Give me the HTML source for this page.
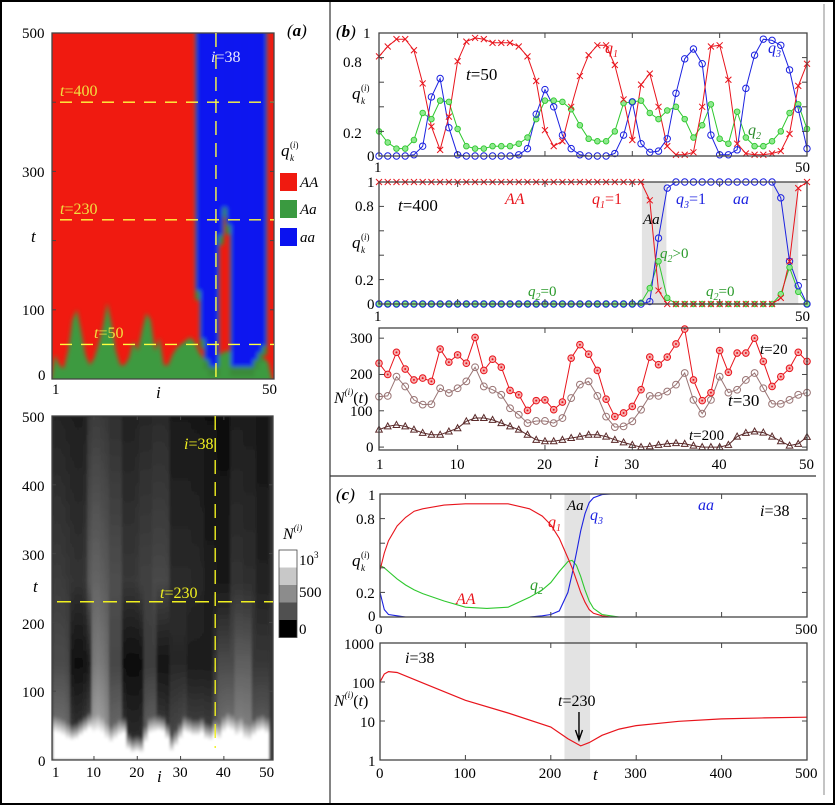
<!DOCTYPE html>
<html><head><meta charset="utf-8">
<style>
html,body{margin:0;padding:0;background:#fff;}
svg text{font-family:"Liberation Serif",serif;}
.it{font-style:italic;}
</style></head>
<body>
<svg id="fig" width="835" height="805" viewBox="0 0 835 805" xmlns="http://www.w3.org/2000/svg">
<defs>
<filter id="blur2" x="-5%" y="-5%" width="110%" height="110%"><feGaussianBlur stdDeviation="2.2"/></filter>
<filter id="blur1" x="-5%" y="-5%" width="110%" height="110%"><feGaussianBlur stdDeviation="1.3"/></filter>
<clipPath id="clipA"><rect x="52" y="33" width="222" height="346"/></clipPath>
<clipPath id="clipB"><rect x="52" y="416" width="221" height="344"/></clipPath>
</defs>
<rect x="1" y="1" width="833" height="803" fill="none" stroke="#000" stroke-width="2"/>
<line x1="330" y1="2" x2="330" y2="803" stroke="#333" stroke-width="1.2"/>
<line x1="330" y1="476" x2="816" y2="476" stroke="#333" stroke-width="1.2"/>
<line x1="824" y1="4" x2="824" y2="795" stroke="#888" stroke-width="1"/>
<g id="root"></g>
</svg>
<script>
// ---------- data: panel (b) t=50 ----------
const idx = Array.from({length:50},(_,k)=>k+1);
const q1_t50 = [0.81,0.89,0.95,0.95,0.86,0.59,0.24,0.05,0.32,0.77,0.93,0.96,0.95,0.92,0.92,0.92,0.89,0.81,0.61,0.21,0.08,0.12,0.40,0.65,0.82,0.90,0.90,0.74,0.46,0.13,0.58,0.67,0.40,0.08,0.01,0.01,0.03,0.40,0.89,0.90,0.62,0.10,0.02,0.01,0.01,0.02,0.04,0.18,0.57,0.75];
const q2_t50 = [0.20,0.11,0.06,0.06,0.13,0.35,0.30,0.45,0.44,0.22,0.08,0.06,0.06,0.08,0.08,0.08,0.10,0.15,0.30,0.45,0.45,0.44,0.38,0.25,0.14,0.12,0.12,0.20,0.43,0.44,0.45,0.35,0.30,0.37,0.40,0.30,0.15,0.25,0.42,0.14,0.10,0.36,0.15,0.08,0.08,0.12,0.20,0.35,0.42,0.22];
const q3_t50 = [0,0,0,0,0.01,0.08,0.48,0.63,0.23,0.01,0,0,0,0,0,0,0.01,0.06,0.34,0.54,0.40,0.17,0.06,0.01,0,0,0,0.02,0.17,0.44,0.10,0.03,0.04,0.14,0.51,0.79,0.87,0.75,0.17,0.01,0.01,0.05,0.55,0.82,0.95,0.94,0.90,0.70,0.38,0.06];
// ---------- panel (b) t=400 ----------
const q1_t400 = [1,1,1,1,1,1,1,1,1,1,1,1,1,1,1,1,1,1,1,1,1,1,1,1,1,1,1,1,1,1,1,0.85,0.11,0,0,0,0,0,0,0,0,0,0,0,0,0,0.05,0.35,0.95,1];
const q2_t400 = [0,0,0,0,0,0,0,0,0,0,0,0,0,0,0,0,0,0,0,0,0,0,0,0,0,0,0,0,0,0,0.01,0.13,0.35,0.05,0,0,0,0,0,0,0,0,0,0,0,0,0.08,0.30,0.10,0];
const q3_t400 = [0,0,0,0,0,0,0,0,0,0,0,0,0,0,0,0,0,0,0,0,0,0,0,0,0,0,0,0,0,0,0,0.02,0.54,0.95,1,1,1,1,1,1,1,1,1,1,1,1,0.87,0.35,0.15,0];
const aaBands = [[31.1,33.9],[46.0,49.0]];
// ---------- panel (b) N(t) ----------
const N_t20 = [231,200,261,215,185,190,181,270,234,254,231,302,211,242,220,156,144,101,128,130,103,124,245,282,256,211,132,84,94,112,158,248,227,248,284,325,185,128,150,266,206,259,259,300,236,167,194,217,261,236];
const N_t30 = [139,141,194,167,130,117,118,162,149,162,181,220,167,158,144,107,89,66,72,72,66,80,135,172,181,141,84,55,57,71,103,141,141,153,172,204,130,92,130,194,150,158,185,204,162,119,119,130,144,150];
const N_t200 = [48,57,61,57,48,39,34,34,43,52,71,80,80,75,66,57,48,34,20,16,16,20,25,29,34,34,29,20,13,6,0,2,6,9,11,9,4,0,0,0,6,29,39,43,40,29,16,4,9,28];
// ---------- panel (c) ----------
const tC = [0,5,10,20,30,40,50,75,100,125,150,175,190,200,210,220,225,230,235,240,245,250,260,270,280,300,350,400,450,500];
const q1_c = [0.38,0.52,0.62,0.74,0.81,0.86,0.88,0.91,0.92,0.92,0.92,0.88,0.82,0.75,0.64,0.48,0.40,0.30,0.20,0.12,0.06,0.03,0.01,0,0,0,0,0,0,0];
const q2_c = [0.42,0.40,0.37,0.31,0.26,0.22,0.19,0.13,0.08,0.07,0.08,0.16,0.22,0.28,0.37,0.45,0.46,0.42,0.33,0.22,0.13,0.07,0.02,0.01,0,0,0,0,0,0];
const q3_c = [0.20,0.06,0.02,0.01,0,0,0,0,0,0,0,0,0.01,0.02,0.05,0.20,0.35,0.52,0.70,0.84,0.93,0.97,0.995,1,1,1,1,1,1,1];
const tN = [0,5,10,20,50,100,150,200,220,235,245,260,280,300,350,400,450,500];
const N_i38 = [100,160,185,175,95,34,16,7,3.5,2.3,2.8,4.3,6.2,7.6,9.8,11.3,12,12.5];
// ---------- heatmap (a) top: genotype ----------
const blobT = [35,20,15,40,85,100,70,35,20,30,50,75,110,80,40,20,20,30,55,40,70,95,85,40,60,20,20,35,45,50,55,60,55,40,30,25,25,30,35,40,40,40,40,40,40,40,35,30,30,25];
const aaStartT = [null,null,null,null,null,null,null,null,null,null,null,null,null,null,null,null,null,null,null,null,null,null,null,null,null,null,null,null,null,null,null,null,null,120,50,20,10,10,200,240,215,10,10,10,10,10,20,30,40,null];
// ---------- heatmap (a) bottom: N ----------
const grayUpper = [60,60,58,55,52,50,50,55,90,100,100,95,90,78,78,78,55,55,55,58,65,65,65,72,72,72,70,42,42,42,42,42,40,40,38,28,28,28,24,24,24,50,50,50,46,46,46,33,33,33];
const grayLower = [75,75,75,70,20,15,15,20,30,120,125,120,110,70,70,70,15,12,12,12,15,60,60,60,20,20,20,40,40,40,40,28,28,28,28,28,28,50,75,75,75,75,95,95,95,95,55,55,55,55];
const whiteT = [40,38,35,30,28,30,35,40,45,40,42,38,30,25,30,35,38,15,10,12,10,25,38,40,42,40,30,12,20,30,40,38,35,35,38,30,28,35,30,40,45,42,35,38,30,28,35,40,42,38];
const cbarColors = ["#ffffff","#c8c8c8","#8c8c8c","#505050","#000000"];

// ---------- helpers ----------
const NS="http://www.w3.org/2000/svg";
const root=document.getElementById('root');
function mk(tag,attrs,parent){const e=document.createElementNS(NS,tag);for(const k in attrs)e.setAttribute(k,attrs[k]);(parent||root).appendChild(e);return e;}
function txt(x,y,s,size,parent,extra){const e=mk('text',Object.assign({x:x,y:y,'font-size':size||14},extra||{}),parent);e.innerHTML=s;return e;}
function qk(x,y){const t=txt(x,y,'q',17,null,{class:'it'});txt(x+9,y-8,'(<tspan class="it">i</tspan>)',9);txt(x+9,y+5,'k',9,null,{class:'it'});}
function lin(d0,d1,r0,r1){return v=>r0+(v-d0)/(d1-d0)*(r1-r0);}
function logS(d0,d1,r0,r1){return v=>r0+(Math.log10(v)-Math.log10(d0))/(Math.log10(d1)-Math.log10(d0))*(r1-r0);}
function pathD(xs,ys,X,Y){return xs.map((v,k)=>(k?'L':'M')+X(v).toFixed(1)+','+Y(ys[k]).toFixed(1)).join('');}
function frame(x0,y0,x1,y1,name){const r=mk('rect',{x:x0,y:y0,width:x1-x0,height:y1-y0,fill:'none',stroke:'#444','stroke-width':1.3});return r;}
function ticksX(vals,X,y0,y1,len){vals.forEach(v=>{mk('line',{x1:X(v),y1:y1,x2:X(v),y2:y1-len,stroke:'#444','stroke-width':1});mk('line',{x1:X(v),y1:y0,x2:X(v),y2:y0+len,stroke:'#444','stroke-width':1});});}
function ticksY(vals,Y,x0,x1,len){vals.forEach(v=>{mk('line',{x1:x0,y1:Y(v),x2:x0+len,y2:Y(v),stroke:'#444','stroke-width':1});mk('line',{x1:x1,y1:Y(v),x2:x1-len,y2:Y(v),stroke:'#444','stroke-width':1});});}

const RED='#e8141c',GREEN='#2ec82e',BLUE='#1c22e0';

// ================= Panel (b1) t=50 =================
(function(){
 const X=lin(1,50,379,807),Y=lin(0,1,156,33);
 const g=mk('g',{});
 
 
 const series=[[q2_t50,GREEN,'q2-t50-line'],[q3_t50,BLUE,'q3-t50-line'],[q1_t50,RED,'q1-t50-line']];
 series.forEach(([arr,c,n])=>{
  const p=mk('path',{d:pathD(idx,arr,X,Y),fill:'none',stroke:c,'stroke-width':1},g);
  
  
 });
 idx.forEach((v,k)=>{
  mk('circle',{cx:X(v),cy:Y(q2_t50[k]),r:2.8,fill:'#8fe88f',stroke:GREEN,'stroke-width':0.9},g);
  mk('circle',{cx:X(v),cy:Y(q3_t50[k]),r:3.2,fill:'none',stroke:BLUE,'stroke-width':1},g);
  const x=X(v),y=Y(q1_t50[k]);
  mk('path',{d:`M${x-3},${y-3}L${x+3},${y+3}M${x-3},${y+3}L${x+3},${y-3}`,stroke:RED,'stroke-width':1},g);
 });
 frame(379,33,807,156,'panel-b-t50-frame');
 ticksX([10,20,30,40],X,33,156,5);ticksY([0.2,0.4,0.6,0.8],Y,379,807,5);
 txt(363,38,'1',15);txt(343,67,'0.8',15);txt(343,138,'0.2',15);txt(367,161,'0',15);
 txt(374,172,'1',15);txt(795,172,'50',15);
 qk(352,99);
 txt(466,80,'t<tspan font-style="normal">=50</tspan>',17,null,{class:'it'});
 txt(605,53,'q<tspan font-size="10" dy="4">1</tspan>',16,null,{class:'it',fill:RED});
 txt(768,53,'q<tspan font-size="10" dy="4">3</tspan>',16,null,{class:'it',fill:BLUE});
 txt(748,135,'q<tspan font-size="10" dy="4">2</tspan>',16,null,{class:'it',fill:'#2a8a2a'});
 txt(336,37,'(<tspan font-weight="bold">b</tspan>)',17,null,{class:'it'});
})();

// ================= Panel (b2) t=400 =================
(function(){
 const X=lin(1,50,379,807),Y=lin(0,1,304,182);
 const g=mk('g',{});
 
 
 aaBands.forEach(b=>{
  const r=mk('rect',{x:X(b[0]),y:182,width:X(b[1])-X(b[0]),height:122,fill:'#e3e3e3'},g);
  
  
 });
 const series=[[q2_t400,GREEN,'q2-t400-line'],[q3_t400,BLUE,'q3-t400-line'],[q1_t400,RED,'q1-t400-line']];
 series.forEach(([arr,c,n])=>{
  const p=mk('path',{d:pathD(idx,arr,X,Y),fill:'none',stroke:c,'stroke-width':1},g);
  
  
 });
 idx.forEach((v,k)=>{
  mk('circle',{cx:X(v),cy:Y(q2_t400[k]),r:2.8,fill:'#8fe88f',stroke:GREEN,'stroke-width':0.9},g);
  mk('circle',{cx:X(v),cy:Y(q3_t400[k]),r:3.2,fill:'none',stroke:BLUE,'stroke-width':1},g);
  const x=X(v),y=Y(q1_t400[k]);
  mk('path',{d:`M${x-3},${y-3}L${x+3},${y+3}M${x-3},${y+3}L${x+3},${y-3}`,stroke:RED,'stroke-width':1},g);
 });
 frame(379,182,807,304,'panel-b-t400-frame');
 ticksX([10,20,30,40],X,182,304,5);ticksY([0.2,0.4,0.6,0.8],Y,379,807,5);
 txt(367,187,'1',15);txt(355,211,'0.8',15);txt(355,285,'0.2',15);txt(367,309,'0',15);
 txt(374,321,'1',15);txt(795,321,'50',15);
 qk(352,248);
 txt(398,211,'t<tspan font-style="normal">=400</tspan>',17,null,{class:'it'});
 txt(505,204,'AA',16,null,{class:'it',fill:RED});
 txt(592,204,'q<tspan font-size="10" dy="4">1</tspan><tspan dy="-4" font-style="normal">=1</tspan>',16,null,{class:'it',fill:RED});
 txt(643,224,'Aa',15,null,{class:'it'});
 txt(676,204,'q<tspan font-size="10" dy="4">3</tspan><tspan dy="-4" font-style="normal">=1</tspan>',16,null,{class:'it',fill:BLUE});
 txt(733,204,'aa',16,null,{class:'it',fill:BLUE});
 txt(660,258,'q<tspan font-size="10" dy="4">2</tspan><tspan dy="-4" font-style="normal">&gt;0</tspan>',15,null,{class:'it',fill:'#2a9a2a'});
 txt(528,296,'q<tspan font-size="10" dy="4">2</tspan><tspan dy="-4" font-style="normal">=0</tspan>',15,null,{class:'it',fill:'#2a9a2a'});
 txt(706,296,'q<tspan font-size="10" dy="4">2</tspan><tspan dy="-4" font-style="normal">=0</tspan>',15,null,{class:'it',fill:'#2a9a2a'});
})();

// ================= Panel (b3) N =================
(function(){
 const X=lin(1,50,379,807),Y=lin(-8,328,450,328);
 const g=mk('g',{});
 
 
 const defs=[[N_t200,'#5a2a2a','tri','N-t200-line'],[N_t30,'#9a7575','circ','N-t30-line'],[N_t20,RED,'dot','N-t20-line']];
 defs.forEach(([arr,c,m,n])=>{
  const p=mk('path',{d:pathD(idx,arr,X,Y),fill:'none',stroke:c,'stroke-width':1},g);
  
  
  idx.forEach((v,k)=>{
   const x=X(v),y=Y(arr[k]);
   if(m==='tri')mk('path',{d:`M${x},${y-3.5}L${x+3.3},${y+2.5}L${x-3.3},${y+2.5}Z`,fill:'none',stroke:c,'stroke-width':1},g);
   else if(m==='circ')mk('circle',{cx:x,cy:y,r:3.4,fill:'none',stroke:c,'stroke-width':1},g);
   else{mk('circle',{cx:x,cy:y,r:3.3,fill:'#f7b0b0',stroke:c,'stroke-width':1},g);mk('circle',{cx:x,cy:y,r:1,fill:c},g);}
  });
 });
 frame(379,328,807,450,'panel-b-population-frame');
 ticksX([10,20,30,40],X,328,450,5);ticksY([0,100,200,300],Y,379,807,5);
 txt(350,343,'300',15);txt(350,379,'200',15);txt(350,416,'100',15);txt(366,452,'0',15);
 [[1,'1'],[10,'10'],[20,'20'],[30,'30'],[40,'40'],[50,'50']].forEach(([v,s])=>txt(X(v)-(s.length>1?8:3),469,s,15));
 txt(594,467,'i',17,null,{class:'it'});
 txt(334,403,'N<tspan font-size="9" dy="-8">(<tspan class="it">i</tspan>)</tspan><tspan dy="8" font-style="normal">(</tspan>t<tspan font-style="normal">)</tspan>',16,null,{class:'it'});
 txt(760,354,'t<tspan font-style="normal">=20</tspan>',15,null,{class:'it'});
 txt(728,406,'t<tspan font-style="normal">=30</tspan>',17,null,{class:'it'});
 txt(689,440,'t<tspan font-style="normal">=200</tspan>',15,null,{class:'it'});
})();

// ================= Panel (c1) =================
(function(){
 const X=lin(0,500,380,807),Y=lin(0,1,617,494);
 const band=mk('rect',{x:X(216),y:494,width:X(246)-X(216),height:266,fill:'#e3e3e3'});
 
 
 const series=[[q2_c,GREEN,'q2-i38-line'],[q3_c,BLUE,'q3-i38-line'],[q1_c,RED,'q1-i38-line']];
 series.forEach(([arr,c,n])=>{
  const p=mk('path',{d:pathD(tC,arr,X,Y),fill:'none',stroke:c,'stroke-width':1.1});
  
  
 });
 frame(380,494,807,617,'panel-c-genotype-frame');
 ticksX([100,200,300,400],X,494,617,5);ticksY([0.2,0.4,0.6,0.8],Y,380,807,5);
 txt(368,500,'1',15);txt(356,524,'0.8',15);txt(356,598,'0.2',15);txt(368,621,'0',15);
 txt(375,634,'0',15);txt(795,634,'500',15);
 qk(352,566);
 txt(456,604,'AA',16,null,{class:'it',fill:RED});
 txt(548,527,'q<tspan font-size="10" dy="4">1</tspan>',16,null,{class:'it',fill:RED});
 txt(567,510,'Aa',15,null,{class:'it'});
 txt(590,520,'q<tspan font-size="10" dy="4">3</tspan>',16,null,{class:'it',fill:BLUE});
 txt(698,510,'aa',16,null,{class:'it',fill:BLUE});
 txt(530,590,'q<tspan font-size="10" dy="4">2</tspan>',16,null,{class:'it',fill:'#2a9a2a'});
 txt(760,516,'i<tspan font-style="normal">=38</tspan>',16,null,{class:'it'});
 txt(336,500,'(<tspan font-weight="bold">c</tspan>)',17,null,{class:'it'});
})();

// ================= Panel (c2) log N =================
(function(){
 const X=lin(0,500,380,807),Y=logS(1,1000,760,643);
 const p=mk('path',{d:pathD(tN,N_i38,X,Y),fill:'none',stroke:RED,'stroke-width':1.2});
 
 
 frame(380,643,807,760,'panel-c-population-frame');
 ticksX([100,200,300,400],X,643,760,5);ticksY([10,100,1000],Y,380,807,5);
 txt(344,649,'1000',15);txt(352,688,'100',15);txt(360,727,'10',15);txt(368,766,'1',15);
 [[0,'0'],[100,'100'],[200,'200'],[300,'300'],[400,'400'],[500,'500']].forEach(([v,s])=>txt(X(v)-s.length*4,778,s,15));
 txt(593,780,'t',17,null,{class:'it'});
 txt(334,706,'N<tspan font-size="9" dy="-8">(<tspan class="it">i</tspan>)</tspan><tspan dy="8" font-style="normal">(</tspan>t<tspan font-style="normal">)</tspan>',16,null,{class:'it'});
 txt(405,663,'i<tspan font-style="normal">=38</tspan>',16,null,{class:'it'});
 txt(558,706,'t<tspan font-style="normal">=230</tspan>',16,null,{class:'it'});
 const ar=mk('path',{d:`M${X(233)},712L${X(233)},738M${X(233)-3.5},730L${X(233)},740L${X(233)+3.5},730`,stroke:'#000','stroke-width':1.4,fill:'none'});
 
 
})();

// ================= Heatmap (a) top =================
(function(){
 const X=i=>55+(i-1)*4.35, Y=lin(0,500,379,33);
 const clip=mk('g',{'clip-path':'url(#clipA)'});
 
 
 mk('rect',{x:52,y:33,width:222,height:346,fill:'#f01a10'},clip);
 const g=mk('g',{filter:'url(#blur2)'},clip);
 let d=`M${X(1)-5},${Y(0)+5}`;
 idx.forEach((i,k)=>{d+=`L${X(i).toFixed(1)},${Y(blobT[k]).toFixed(1)}`;});
 d+=`L${X(50)+5},${Y(0)+5}Z`;
 const blob=mk('path',{d:d,fill:'#3e9a40'},g);
 
 
 idx.forEach((i,k)=>{
  const x=X(i)-2.2,w=4.4;
  if(aaStartT[k]!==null){
   const c=mk('rect',{x:x-1.2,y:Y(500)-5,width:w+2.4,height:Y(aaStartT[k]-6)-Y(500)+5,fill:'#3a8a3a'},g);
   
   
  }
 });
 idx.forEach((i,k)=>{
  const x=X(i)-2.2,w=4.4;
  if(aaStartT[k]!==null){
   const b=mk('rect',{x:x-0.1,y:Y(500)-5,width:w+0.2,height:Y(aaStartT[k]+8)-Y(500)+5,fill:'#0a12f0'},g);
   
   
  }
 });
 frame(52,33,274,379,'genotype-heatmap-frame');
 const yl='#ffff40';
 [[400,'t=400'],[230,'t=230'],[50,'t=50']].forEach(([t,s])=>{
  const l=mk('line',{x1:52,y1:Y(t),x2:274,y2:Y(t),stroke:yl,'stroke-width':1.4,'stroke-dasharray':'12,9','stroke-dashoffset':-8});
  
  
 });
 const vl=mk('line',{x1:X(38),y1:33,x2:X(38),y2:379,stroke:yl,'stroke-width':1.4,'stroke-dasharray':'14,8'});
 
 
 txt(60,96,'t<tspan font-style="normal">=400</tspan>',16,null,{class:'it',fill:'#f0e040'});
 txt(60,214,'t<tspan font-style="normal">=230</tspan>',16,null,{class:'it',fill:'#f0e040'});
 txt(94,338,'t<tspan font-style="normal">=50</tspan>',16,null,{class:'it',fill:'#f0e040'});
 txt(211,62,'i<tspan font-style="normal">=38</tspan>',16,null,{class:'it',fill:'#e8e8ff'});
 ticksY([100,200,300,400],Y,52,274,4);
 txt(22,38,'500',15);txt(22,177,'300',15);txt(22,315,'100',15);txt(38,380,'0',15);
 txt(31,242,'t',17,null,{class:'it'});
 txt(52,394,'1',15);txt(262,394,'50',15);txt(156,398,'i',17,null,{class:'it'});
 txt(287,36,'(<tspan font-weight="bold">a</tspan>)',17,null,{class:'it'});
 qk(281,156);
 [['#f01a10','AA',173],['#3a9a40','Aa',200],['#0a12f0','aa',228]].forEach(([c,s,y])=>{
  const r=mk('rect',{x:280,y:y,width:17,height:18,fill:c});
  
  
  txt(300,y+14,s,15,null,{class:'it'});
 });
})();

// ================= Heatmap (a) bottom =================
(function(){
 const X=i=>55+(i-1)*4.33, Y=lin(0,500,760,416);
 const clip=mk('g',{'clip-path':'url(#clipB)'});
 
 
 const defs=document.querySelector('defs');
 mk('rect',{x:52,y:416,width:221,height:344,fill:'#333'},clip);
 const g=mk('g',{filter:'url(#blur1)'},clip);
 idx.forEach((i,k)=>{
  const gid='cg'+k;
  const lg=mk('linearGradient',{id:gid,x1:0,y1:0,x2:0,y2:1},defs);
  const gu=grayUpper[k],gl=grayLower[k];
  const yTop=Y(500),yBot=Y(0),H=yBot-yTop;
  const stops=[[0,Math.round(gu*0.6)],[(Y(260)-yTop)/H,gu],[(Y(140)-yTop)/H,gl],[(Y(whiteT[k]+25)-yTop)/H,Math.min(255,gl+30)],[(Y(whiteT[k])-yTop)/H,255],[1,255]];
  stops.forEach(([o,v])=>mk('stop',{offset:o,'stop-color':`rgb(${v},${v},${v})`},lg));
  const r=mk('rect',{x:X(i)-2.4,y:yTop,width:4.9,height:H,fill:`url(#${gid})`},g);
  
  
 });
 frame(52,416,273,760,'population-heatmap-frame');
 const yl='#f0f020';
 const hl=mk('line',{x1:52,y1:Y(230),x2:273,y2:Y(230),stroke:yl,'stroke-width':1.4,'stroke-dasharray':'14,9','stroke-dashoffset':-5});
 
 
 const vl=mk('line',{x1:X(38),y1:416,x2:X(38),y2:748,stroke:yl,'stroke-width':1.4,'stroke-dasharray':'14,8'});
 
 
 txt(184,449,'i<tspan font-style="normal">=38</tspan>',16,null,{class:'it',fill:yl});
 txt(160,598,'t<tspan font-style="normal">=230</tspan>',16,null,{class:'it',fill:yl});
 ticksY([100,200,300,400],Y,52,273,4);
 ticksX([10,20,30,40],i=>X(i),416,760,4);
 txt(22,422,'500',15);txt(22,491,'400',15);txt(22,560,'300',15);txt(22,629,'200',15);txt(22,697,'100',15);txt(38,766,'0',15);
 txt(33,592,'t',17,null,{class:'it'});
 [[1,'1'],[10,'10'],[20,'20'],[30,'30'],[40,'40'],[50,'50']].forEach(([v,s])=>txt(X(v)-(s.length>1?8:3),777,s,15));
 txt(157,782,'i',17,null,{class:'it'});
 txt(283,539,'N<tspan font-size="9" dy="-8">(<tspan class="it">i</tspan>)</tspan>',16,null,{class:'it'});
 cbarColors.forEach((c,k)=>{
  const r=mk('rect',{x:279,y:550+k*17.5,width:18,height:17.5,fill:c});
  
  
 });
 mk('rect',{x:279,y:550,width:18,height:87.5,fill:'none',stroke:'#444','stroke-width':0.8});
 txt(299,565,'10<tspan font-size="9" dy="-7">3</tspan>',15);
 txt(299,597,'500',15);
 txt(299,634,'0',15);
})();
</script>
</body></html>
